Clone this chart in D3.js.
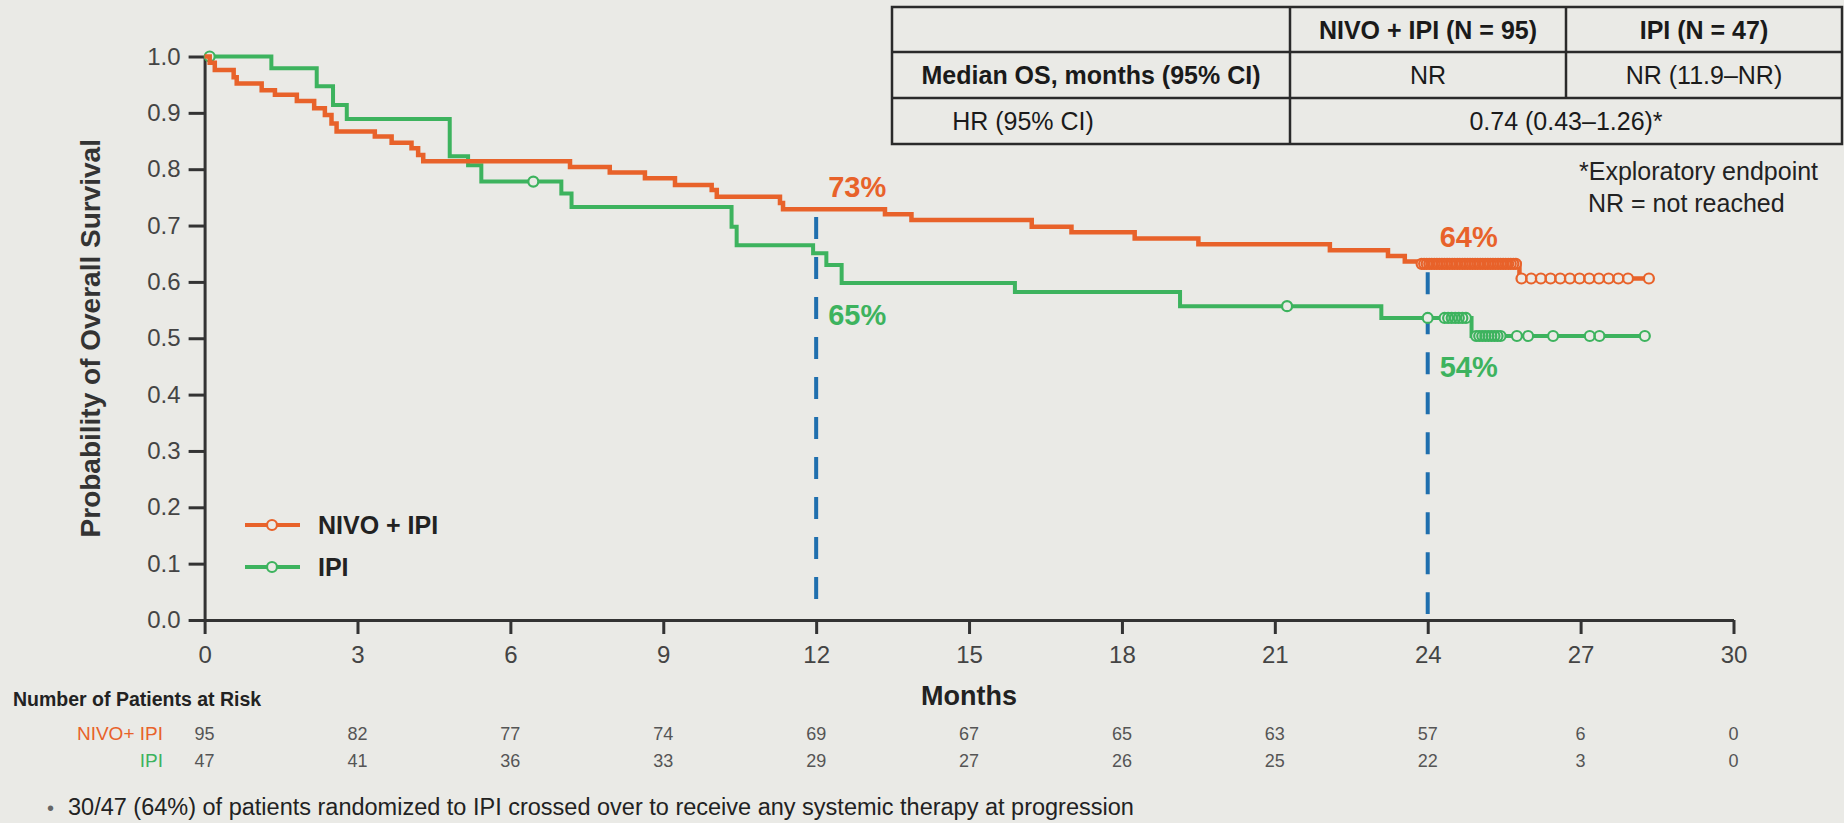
<!DOCTYPE html>
<html>
<head>
<meta charset="utf-8">
<style>
  body { margin: 0; background: #eaeae6; }
  svg text { font-family: "Liberation Sans", Arial, Helvetica, sans-serif; }
</style>
</head>
<body>
<script src="https://cdn.jsdelivr.net/npm/d3@7"></script>
<script>
// ---- data ----
var months = [0, 3, 6, 9, 12, 15, 18, 21, 24, 27, 30];
var yTicks = [0, 0.1, 0.2, 0.3, 0.4, 0.5, 0.6, 0.7, 0.8, 0.9, 1.0];

// NIVO + IPI step curve (event time, survival after it)
var nivoTimes = [0, 0.1, 0.2, 0.57, 0.63, 1.12, 1.38, 1.81, 2.15, 2.36, 2.49, 2.59, 3.34, 3.67, 4.06, 4.19, 4.29,
                 7.17, 7.95, 8.64, 9.23, 9.95, 10.05, 11.29, 11.35, 13.35, 13.87, 16.23, 17.01, 18.25, 19.5,
                 22.08, 23.22, 23.55, 23.85, 25.8];
var nivoSurv  = [1.0, 0.989, 0.976, 0.963, 0.952, 0.940, 0.932, 0.921, 0.908, 0.896, 0.881, 0.867, 0.858, 0.847, 0.837, 0.825, 0.814,
                 0.804, 0.794, 0.784, 0.772, 0.763, 0.751, 0.740, 0.729, 0.720, 0.710, 0.698, 0.688, 0.677, 0.667,
                 0.656, 0.646, 0.636, 0.632, 0.606];
// censored patients (the 24-26 month cluster is packed tight)
var nivoCensor = [23.88, 23.93, 23.98, 24.03, 24.08, 24.13, 24.18, 24.23, 24.28, 24.33, 24.38, 24.43, 24.48, 24.53,
                  24.58, 24.63, 24.68, 24.73, 24.78, 24.83, 24.88, 24.93, 24.98, 25.03, 25.08, 25.13, 25.18, 25.23,
                  25.28, 25.33, 25.38, 25.43, 25.48, 25.53, 25.58, 25.63, 25.68, 25.73,
                  25.84, 26.03, 26.22, 26.41, 26.6, 26.79, 26.98, 27.17, 27.36, 27.55, 27.74, 27.93, 28.34];

// IPI step curve
var ipiTimes = [0, 1.31, 2.2, 2.52, 2.79, 4.81, 5.17, 5.43, 7.0, 7.2, 10.34, 10.44, 11.94, 12.2, 12.5, 15.9, 19.14, 23.09, 24.86];
var ipiSurv  = [1.0, 0.979, 0.947, 0.914, 0.889, 0.823, 0.807, 0.778, 0.757, 0.733, 0.698, 0.665, 0.651, 0.630, 0.598, 0.582, 0.557, 0.536, 0.504];
var ipiCensor = [0.1, 6.45, 21.24, 24.0, 24.33, 24.4, 24.47, 24.54, 24.61, 24.68, 24.75,
                 24.95, 25.01, 25.07, 25.13, 25.19, 25.25, 25.31, 25.37, 25.43,
                 25.75, 25.97, 26.46, 27.18, 27.37, 28.26];

var nivoAtRisk = [95, 82, 77, 74, 69, 67, 65, 63, 57, 6, 0];
var ipiAtRisk  = [47, 41, 36, 33, 29, 27, 26, 25, 22, 3, 0];

var landmarkMonths = [12, 24];
var landmarkTops   = [0.715, 0.617];

// percentage call-outs: month of the landmark, baseline height (in survival units), text, series
var pctMonths = [12, 12, 24, 24];
var pctLevels = [0.751, 0.524, 0.662, 0.431];
var pctTexts  = ["73%", "65%", "64%", "54%"];
var pctSeries = ["nivo", "ipi", "nivo", "ipi"];

var tableHeader = ["", "NIVO + IPI (N = 95)", "IPI (N = 47)"];
var tableMedian = ["Median OS, months (95% CI)", "NR", "NR (11.9\u2013NR)"];
var tableHR     = ["HR (95% CI)", "0.74 (0.43\u20131.26)*"];

var colors = { nivo: "#e8622a", ipi: "#3db35e", blue: "#1f6fae", axis: "#333333", bg: "#eaeae6" };

// ---- drawing ----
var W = 1844, H = 823;
var svg = d3.select("body").append("svg").attr("width", W).attr("height", H);
svg.append("rect").attr("width", W).attr("height", H).attr("fill", colors.bg);

var x = d3.scaleLinear().domain([0, 30]).range([204.6, 1733.5]);
var y = d3.scaleLinear().domain([0, 1]).range([620, 56.5]);

// axes
var gy = svg.append("g").attr("transform", "translate(" + x(0) + ",0)")
  .call(d3.axisLeft(y).tickValues(yTicks).tickFormat(d3.format(".1f")).tickSize(16).tickSizeOuter(0).tickPadding(8));
var gx = svg.append("g").attr("transform", "translate(0," + y(0) + ")")
  .call(d3.axisBottom(x).tickValues(months).tickFormat(d3.format("d")).tickSize(14).tickSizeOuter(0).tickPadding(12));
[gx, gy].forEach(function(g){
  g.select(".domain").attr("stroke", colors.axis).attr("stroke-width", 3);
  g.selectAll(".tick line").attr("stroke", colors.axis).attr("stroke-width", 3);
  g.selectAll(".tick text").attr("fill", "#444").attr("font-size", 24).attr("font-family", null);
});

svg.append("text")
  .attr("transform", "translate(100," + y(0.5) + ") rotate(-90)")
  .attr("text-anchor", "middle").attr("font-size", 28).attr("font-weight", "bold").attr("fill", "#333")
  .text("Probability of Overall Survival");

svg.append("text").attr("x", (x(0) + x(30)) / 2).attr("y", 705)
  .attr("text-anchor", "middle").attr("font-size", 27).attr("font-weight", "bold").attr("fill", "#222")
  .text("Months");

// landmark dashed lines
landmarkMonths.forEach(function(m, i){
  svg.append("line")
    .attr("x1", x(m)).attr("x2", x(m))
    .attr("y1", y(landmarkTops[i])).attr("y2", y(0) - 6)
    .attr("stroke", colors.blue).attr("stroke-width", 4)
    .attr("stroke-dasharray", "22,18");
});

function survAt(times, surv, t){
  var i = d3.bisectRight(times, t) - 1;
  return surv[Math.max(0, i)];
}

var line = d3.line().x(function(d){ return x(d[0]); }).y(function(d){ return y(d[1]); }).curve(d3.curveStepAfter);

function drawCurve(times, surv, censor, color, width){
  var pts = times.map(function(t, i){ return [t, surv[i]]; });
  pts.push([d3.max(censor), surv[surv.length - 1]]);
  svg.append("path").datum(pts).attr("d", line)
    .attr("fill", "none").attr("stroke", color).attr("stroke-width", width).attr("stroke-linejoin", "miter");
  var g = svg.append("g");
  // fills first, then all rings, so tight clusters merge into a solid band
  g.selectAll("circle.f").data(censor).enter().append("circle")
    .attr("cx", function(t){ return x(t); }).attr("cy", function(t){ return y(survAt(times, surv, t)); })
    .attr("r", 5).attr("fill", colors.bg);
  g.selectAll("circle.s").data(censor).enter().append("circle")
    .attr("cx", function(t){ return x(t); }).attr("cy", function(t){ return y(survAt(times, surv, t)); })
    .attr("r", 5).attr("fill", "none").attr("stroke", color).attr("stroke-width", 2.2);
}
drawCurve(ipiTimes, ipiSurv, ipiCensor, colors.ipi, 4);
drawCurve(nivoTimes, nivoSurv, nivoCensor, colors.nivo, 4.5);

// percentage labels
pctTexts.forEach(function(t, i){
  svg.append("text").attr("x", x(pctMonths[i]) + 12).attr("y", y(pctLevels[i]))
    .attr("font-size", 29).attr("font-weight", "bold").attr("fill", colors[pctSeries[i]])
    .text(t);
});

// legend
var legendItems = [["NIVO + IPI", colors.nivo], ["IPI", colors.ipi]];
legendItems.forEach(function(d, i){
  var ly = 525 + i * 42;
  svg.append("line").attr("x1", 245).attr("x2", 300).attr("y1", ly).attr("y2", ly)
    .attr("stroke", d[1]).attr("stroke-width", 4);
  svg.append("circle").attr("cx", 272).attr("cy", ly).attr("r", 5)
    .attr("fill", colors.bg).attr("stroke", d[1]).attr("stroke-width", 2.2);
  svg.append("text").attr("x", 318).attr("y", ly + 9)
    .attr("font-size", 25).attr("font-weight", "bold").attr("fill", "#222").text(d[0]);
});

// table
var colX = [892, 1290, 1566, 1842];
var rowY = [7, 52, 98, 144];
var tg = svg.append("g");
tg.append("rect").attr("x", colX[0]).attr("y", rowY[0]).attr("width", colX[3] - colX[0]).attr("height", rowY[3] - rowY[0])
  .attr("fill", colors.bg).attr("stroke", "#2a2a2a").attr("stroke-width", 2.5);
[rowY[1], rowY[2]].forEach(function(ry){
  tg.append("line").attr("x1", colX[0]).attr("x2", colX[3]).attr("y1", ry).attr("y2", ry)
    .attr("stroke", "#2a2a2a").attr("stroke-width", 2.5);
});
tg.append("line").attr("x1", colX[1]).attr("x2", colX[1]).attr("y1", rowY[0]).attr("y2", rowY[3])
  .attr("stroke", "#2a2a2a").attr("stroke-width", 2.5);
tg.append("line").attr("x1", colX[2]).attr("x2", colX[2]).attr("y1", rowY[0]).attr("y2", rowY[2])
  .attr("stroke", "#2a2a2a").attr("stroke-width", 2.5);

function cell(txt, cx, row, bold){
  tg.append("text").attr("x", cx).attr("y", (rowY[row] + rowY[row + 1]) / 2 + 9)
    .attr("text-anchor", "middle").attr("font-size", 25).attr("font-weight", bold ? "bold" : "normal")
    .attr("fill", "#1a1a1a").text(txt);
}
cell(tableHeader[1], (colX[1] + colX[2]) / 2, 0, true);
cell(tableHeader[2], (colX[2] + colX[3]) / 2, 0, true);
cell(tableMedian[0], (colX[0] + colX[1]) / 2, 1, true);
cell(tableMedian[1], (colX[1] + colX[2]) / 2, 1, false);
cell(tableMedian[2], (colX[2] + colX[3]) / 2, 1, false);
cell(tableHR[0], 1023, 2, false);
cell(tableHR[1], (colX[1] + colX[3]) / 2, 2, false);

svg.append("text").attr("x", 1579).attr("y", 180).attr("font-size", 25).attr("fill", "#222").text("*Exploratory endpoint");
svg.append("text").attr("x", 1588).attr("y", 212).attr("font-size", 25).attr("fill", "#222").text("NR = not reached");

// number at risk
svg.append("text").attr("x", 13).attr("y", 706).attr("font-size", 19.5).attr("font-weight", "bold").attr("fill", "#222")
  .text("Number of Patients at Risk");
var riskRows = [["NIVO+ IPI", colors.nivo, nivoAtRisk, 740], ["IPI", colors.ipi, ipiAtRisk, 767]];
riskRows.forEach(function(r){
  svg.append("text").attr("x", 163).attr("y", r[3]).attr("text-anchor", "end")
    .attr("font-size", 19).attr("fill", r[1]).text(r[0]);
  svg.append("g").selectAll("text").data(r[2]).enter().append("text")
    .attr("x", function(d, i){ return x(months[i]); }).attr("y", r[3])
    .attr("text-anchor", "middle").attr("font-size", 18).attr("fill", "#555")
    .text(function(d){ return d; });
});

// footnote
svg.append("text").attr("x", 47).attr("y", 815).attr("font-size", 20).attr("fill", "#666").text("\u2022");
svg.append("text").attr("x", 68).attr("y", 815).attr("font-size", 23.5).attr("fill", "#222")
  .text("30/47 (64%) of patients randomized to IPI crossed over to receive any systemic therapy at progression");
</script>
</body>
</html>
